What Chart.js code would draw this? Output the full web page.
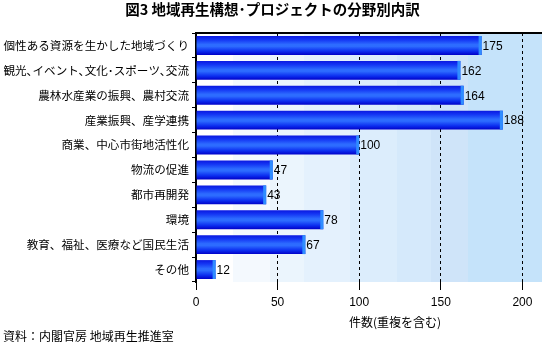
<!DOCTYPE html>
<html><head><meta charset="utf-8">
<script src="https://cdn.jsdelivr.net/npm/chart.js@4"></script>
<style>html,body{margin:0;padding:0;background:#fff}#wrap{width:542px;height:352px}</style>
</head><body><div id="wrap"><canvas id="c" width="542" height="352"></canvas></div>
<script>
const categories = [
  '個性ある資源を生かした地域づくり',
  '観光､イベント､文化･スポーツ､交流',
  '農林水産業の振興、農村交流',
  '産業振興、産学連携',
  '商業、中心市街地活性化',
  '物流の促進',
  '都市再開発',
  '環境',
  '教育、福祉、医療など国民生活',
  'その他'
];
const counts = [175, 162, 164, 188, 100, 47, 43, 78, 67, 12];
const xTicks = [0, 50, 100, 150, 200];
const titleText = '図3 地域再生構想･プロジェクトの分野別内訳';
const xAxisTitle = '件数(重複を含む)';
const sourceNote = '資料：内閣官房 地域再生推進室';

const JP = '"Noto Sans CJK JP", "Noto Sans", sans-serif';
const bandStops = [0, 0.107, 0.214, 0.312, 0.445, 0.581, 0.679, 0.786];
const bandColors = ['#ffffff', '#f4f9fe', '#ebf5fd', '#e4f1fd', '#dcedfc', '#d5e9fb', '#cfe4f9', '#c5e3fa'];

const bgPlugin = {
  id: 'bg',
  beforeDraw(chart) {
    const {ctx, chartArea: a} = chart;
    ctx.save();
    ctx.fillStyle = '#fff';
    ctx.fillRect(0, 0, chart.width, chart.height);
    const w = a.right - a.left;
    for (let i = 0; i < bandStops.length; i++) {
      const x0 = a.left + bandStops[i] * w;
      const x1 = i + 1 < bandStops.length ? a.left + bandStops[i + 1] * w : a.right;
      ctx.fillStyle = bandColors[i];
      ctx.fillRect(Math.round(x0), a.top, Math.round(x1) - Math.round(x0), a.bottom - a.top);
    }
    ctx.restore();
  },
  afterDatasetsDraw(chart) {
    const {ctx, chartArea: a} = chart;
    const meta = chart.getDatasetMeta(0);
    ctx.save();
    meta.data.forEach((el, i) => {
      const h = el.height;
      ctx.fillStyle = '#2f8dff';
      ctx.fillRect(el.x - 3, el.y - h / 2, 3, h);
      ctx.fillStyle = '#000';
      ctx.font = '12px "Liberation Sans", Arial, sans-serif';
      ctx.textAlign = 'left';
      ctx.textBaseline = 'middle';
      ctx.fillText(String(counts[i]), el.x + 1, el.y + 1);
    });
    // top border
    ctx.strokeStyle = '#000';
    ctx.lineWidth = 2;
    ctx.beginPath();
    ctx.moveTo(a.left - 1, a.top);
    ctx.lineTo(a.right, a.top);
    ctx.stroke();
    ctx.restore();
  },
  afterDraw(chart) {
    const {ctx} = chart;
    const xs = chart.scales.x;
    ctx.save();
    ctx.fillStyle = '#000';
    ctx.font = '12px ' + JP;
    ctx.textAlign = 'center';
    ctx.textBaseline = 'middle';
    ctx.fillText(xAxisTitle, xs.getPixelForValue(122), xs.top + 40);
    ctx.restore();
  }
};

function barGradient(c) {
  const chart = c.chart;
  const a = chart.chartArea;
  if (!a || !chart.scales.y) return '#1040f0';
  const y = chart.scales.y.getPixelForValue(c.dataIndex);
  const h = (a.bottom - a.top) / categories.length * 0.76;
  const g = chart.ctx.createLinearGradient(0, y - h / 2, 0, y + h / 2);
  g.addColorStop(0, '#0a18e0');
  g.addColorStop(0.2, '#1436f4');
  g.addColorStop(0.45, '#2d6cff');
  g.addColorStop(0.55, '#2d6cff');
  g.addColorStop(0.8, '#0c2ef0');
  g.addColorStop(1, '#0000c8');
  return g;
}

new Chart(document.getElementById('c'), {
  type: 'bar',
  data: {
    labels: categories,
    datasets: [{
      data: counts,
      backgroundColor: barGradient,
      borderWidth: 0,
      barPercentage: 0.76,
      categoryPercentage: 1
    }]
  },
  options: {
    indexAxis: 'y',
    responsive: false,
    animation: false,
    devicePixelRatio: 1,
    layout: {padding: {left: 3, right: 0, top: 0, bottom: 0}},
    plugins: {
      legend: {display: false},
      tooltip: {enabled: false},
      title: {
        display: true,
        text: titleText,
        color: '#000',
        font: {family: JP, size: 14.5, weight: 'bold'},
        padding: {top: 1, bottom: 14.6}
      },
      subtitle: {
        display: true,
        text: sourceNote,
        position: 'bottom',
        align: 'start',
        color: '#000',
        font: {family: JP, size: 12, weight: 'normal'},
        padding: {top: 0, bottom: 8}
      }
    },
    scales: {
      x: {
        type: 'linear',
        min: 0,
        max: 212,
        afterBuildTicks(scale) { scale.ticks = xTicks.map(v => ({value: v})); },
        afterFit(scale) { scale.height = 47.6; },
        ticks: {
          color: '#000',
          font: {family: '"Liberation Sans", Arial, sans-serif', size: 12},
          padding: 5,
          maxRotation: 0
        },
        grid: {
          color: c => (c.tick && c.tick.value === 0) ? 'rgba(0,0,0,0)' : '#000',
          lineWidth: 1,
          tickColor: '#000',
          tickLength: 8,
          tickBorderDash: []
        },
        border: {display: false, dash: [3, 3]}
      },
      y: {
        type: 'category',
        offset: true,
        afterFit(scale) { scale.width = 193; },
        ticks: {
          color: '#000',
          font: {family: JP, size: 11.6},
          padding: 3,
          autoSkip: false
        },
        grid: {
          offset: true,
          drawOnChartArea: false,
          tickColor: '#000',
          tickLength: 4
        },
        border: {display: true, color: '#000', width: 2}
      }
    }
  },
  plugins: [bgPlugin]
});
</script>
</body></html>
